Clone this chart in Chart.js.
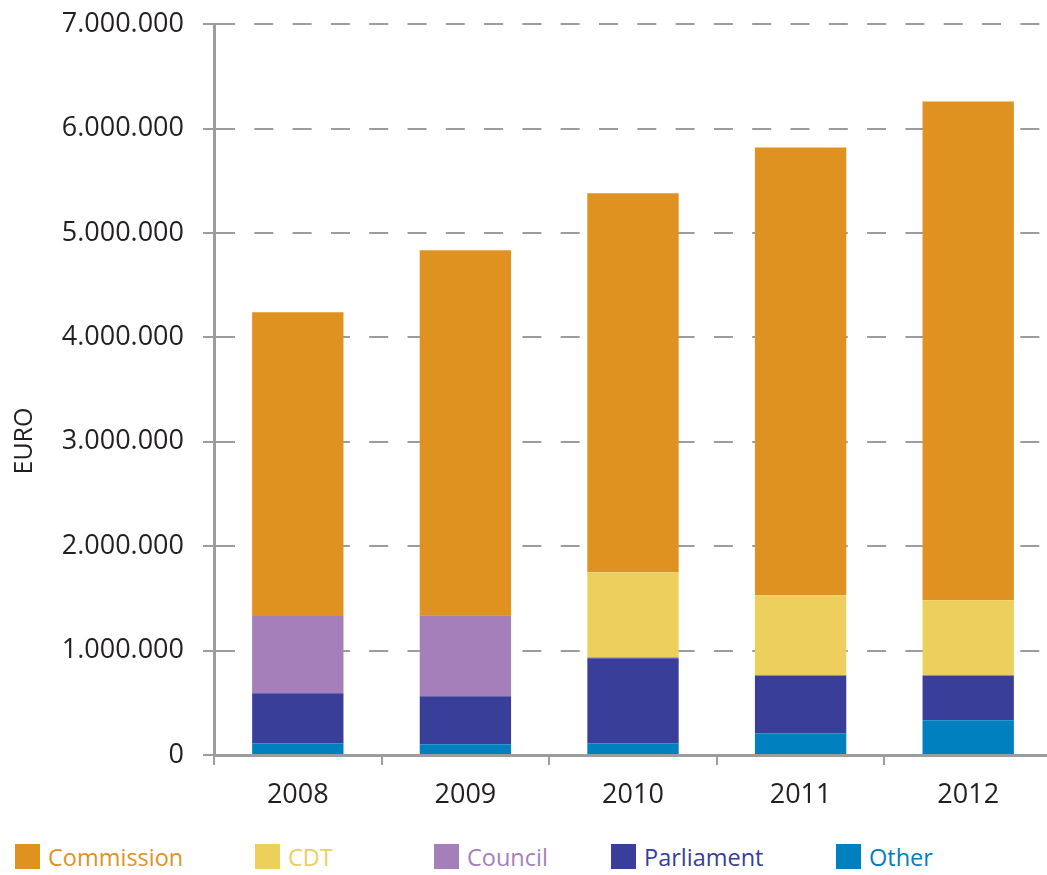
<!DOCTYPE html>
<html>
<head>
<meta charset="utf-8">
<script src="https://cdn.jsdelivr.net/npm/chart.js@4/dist/chart.umd.min.js"></script>
<style>
  html, body { margin: 0; padding: 0; background: #fff; overflow: hidden; }
  #wrap { position: absolute; top: -11px; left: 0; width: 1052px; height: 831px; }
  #legend { position: absolute; top: 844px; left: 0; width: 1047px; height: 26px; font-family: "Open Sans", sans-serif; font-size: 23.5px; }
  .item { position: absolute; top: 0; height: 26px; line-height: 26px; white-space: nowrap; }
  .box { display: inline-block; width: 25px; height: 25px; vertical-align: top; margin-right: 8px; }
</style>
</head>
<body>
<div id="wrap"><canvas id="Chart"></canvas></div>
<div id="legend"></div>
<script>
// dati (euro)
let anni = ['2008', '2009', '2010', '2011', '2012']
let other = [112000, 102000, 112000, 208000, 332000]
let parliament = [479000, 460000, 814000, 548000, 424000]
let council = [741000, 776000, 10000, 10000, 10000]
let cdt = [0, 0, 814000, 764000, 716000]
let commission = [2908000, 3496000, 3630000, 4290000, 4778000]

let nomi = ['Commission', 'CDT', 'Council', 'Parliament', 'Other']
let colori = ['#df921f', '#edd05c', '#a57fba', '#393f98', '#0080bf']
let legendaX = [15, 255, 434, 611, 836]

let grigio = '#9c9c9e'
let font = '"Open Sans", sans-serif'

// titolo asse y disegnato a mano (nel grafico originale non è centrato)
let titoloY = {
  id: 'titoloY',
  afterDraw: function(chart) {
    let ctx = chart.ctx
    ctx.save()
    ctx.translate(25, 452)
    ctx.rotate(-Math.PI / 2)
    ctx.fillStyle = '#231f20'
    ctx.font = '25px ' + font
    ctx.textAlign = 'center'
    ctx.textBaseline = 'middle'
    ctx.fillText('EURO', 0, 0)
    ctx.restore()
  }
}

// ordine di impilamento: dal basso verso l'alto
let data = {
  labels: anni,
  datasets: [
    { label: 'Other', data: other, backgroundColor: colori[4] },
    { label: 'Parliament', data: parliament, backgroundColor: colori[3] },
    { label: 'Council', data: council, backgroundColor: colori[2] },
    { label: 'CDT', data: cdt, backgroundColor: colori[1] },
    { label: 'Commission', data: commission, backgroundColor: colori[0] }
  ]
}

let config = {
  type: 'bar',
  data: data,
  plugins: [titoloY],
  options: {
    responsive: false,
    animation: false,
    layout: { padding: { top: 12, right: 0, bottom: 0, left: 0 } },
    datasets: { bar: { barPercentage: 0.545, categoryPercentage: 1, borderWidth: 0 } },
    plugins: { legend: { display: false }, tooltip: { enabled: false } },
    scales: {
      x: {
        stacked: true,
        afterFit: function(s) { s.height = 65 },
        grid: { drawOnChartArea: false, drawTicks: true, tickLength: 10, color: grigio, lineWidth: 2, offset: true },
        border: { display: true, color: grigio, width: 3 },
        ticks: { color: '#231f20', padding: 14, font: { family: font, size: 27 } }
      },
      y: {
        stacked: true,
        min: 0,
        max: 7000000,
        afterFit: function(s) { s.width = 214 },
        grid: { color: grigio, lineWidth: 2, tickLength: 11, tickBorderDash: [1, 0], tickColor: grigio },
        border: { display: true, color: grigio, width: 3, dash: [19, 19.3] },
        ticks: {
          stepSize: 1000000,
          color: '#231f20',
          padding: 19,
          font: { family: font, size: 27 },
          callback: function(v) { return String(v).replace(/\B(?=(\d{3})+(?!\d))/g, '.') }
        }
      }
    }
  }
}

let cv = document.getElementById('Chart')
cv.width = 1052
cv.height = 831
let myChart = new Chart(cv, config)

// legenda in html, costruita dagli array
let leg = document.getElementById('legend')
for (let i = 0; i < nomi.length; i++) {
  leg.innerHTML += '<div class="item" style="left:' + legendaX[i] + 'px;color:' + colori[i] + '"><span class="box" style="background:' + colori[i] + '"></span>' + nomi[i] + '</div>'
}
</script>
</body>
</html>
